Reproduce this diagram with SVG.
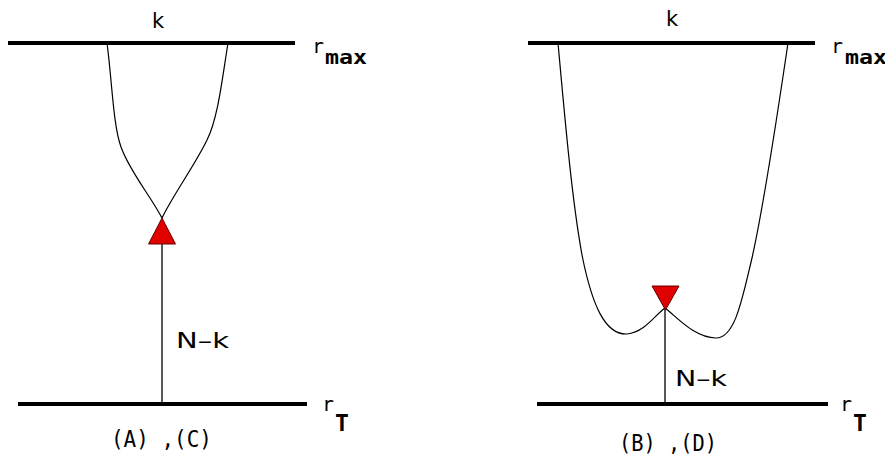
<svg xmlns="http://www.w3.org/2000/svg" width="885" height="460" viewBox="0 0 885 460">
<style>
.axis{stroke:#000;stroke-width:4;fill:none}
.curve{stroke:#000;stroke-width:1.2;fill:none}
.stem{stroke:#000;stroke-width:1.3}
.tri{fill:#e00000;stroke:#600;stroke-width:1}
.lbl{font-family:"DejaVu Sans","Liberation Sans",sans-serif;font-size:21px;fill:#000}
.mono{font-family:"DejaVu Sans Mono","Liberation Mono",monospace;font-size:20px;fill:#000}
.cap{font-family:"DejaVu Sans Mono","Liberation Mono",monospace;font-size:23px;fill:#000}
.sub{font-weight:bold}
.tsub{font-size:23px;font-weight:bold}
</style>
<rect width="885" height="460" fill="#fff"/>
<g id="panelA">
  <g id="axesA">
    <line class="axis" x1="8" y1="43" x2="295" y2="43"/>
    <line class="axis" x1="18" y1="404" x2="307" y2="404"/>
  </g>
  <g id="connectorsA">
    <path class="curve" d="M107,43 C112,80 113,125 121,147 C130,172 150,195 162,218"/>
    <path class="curve" d="M228,43 C222,80 218,118 207,140 C195,165 173,195 162,218"/>
    <line class="stem" x1="162" y1="244" x2="162" y2="404"/>
  </g>
  <g id="nodeA">
    <polygon class="tri" points="162,218 148.5,244 175.5,244"/>
  </g>
  <text class="lbl" x="152" y="28">k</text>
  <text class="mono" x="312" y="53">r<tspan class="sub" x="325" y="64" textLength="42" lengthAdjust="spacingAndGlyphs">max</tspan></text>
  <text class="lbl" x="176" y="348" textLength="53" lengthAdjust="spacingAndGlyphs">N–k</text>
  <text class="mono" x="322" y="411">r</text>
  <text class="mono tsub" x="335" y="431">T</text>
  <text class="cap" x="111" y="447" textLength="101" lengthAdjust="spacingAndGlyphs">(A) ,(C)</text>
</g>
<g id="panelB">
  <g id="axesB">
    <line class="axis" x1="528" y1="43" x2="815" y2="43"/>
    <line class="axis" x1="537" y1="404" x2="828" y2="404"/>
  </g>
  <g id="connectorsB">
    <path class="curve" d="M558,43 C565,120 572,200 582,255 C592,305 605,335 627,334 C645,332 655,315 665,308"/>
    <path class="curve" d="M788,43 C778,110 765,200 752,258 C742,300 735,338 716,338 C695,338 678,318 665,308"/>
    <line class="stem" x1="665" y1="308" x2="665" y2="404"/>
  </g>
  <g id="nodeB">
    <polygon class="tri" points="652,286 679,286 665.5,310"/>
  </g>
  <text class="lbl" x="666" y="26">k</text>
  <text class="mono" x="831" y="53">r<tspan class="sub" x="845" y="64" textLength="42" lengthAdjust="spacingAndGlyphs">max</tspan></text>
  <text class="lbl" x="675" y="386" textLength="52" lengthAdjust="spacingAndGlyphs">N–k</text>
  <text class="mono" x="840" y="411">r</text>
  <text class="mono tsub" x="853" y="431">T</text>
  <text class="cap" x="619" y="451" textLength="98" lengthAdjust="spacingAndGlyphs">(B) ,(D)</text>
</g>
</svg>
